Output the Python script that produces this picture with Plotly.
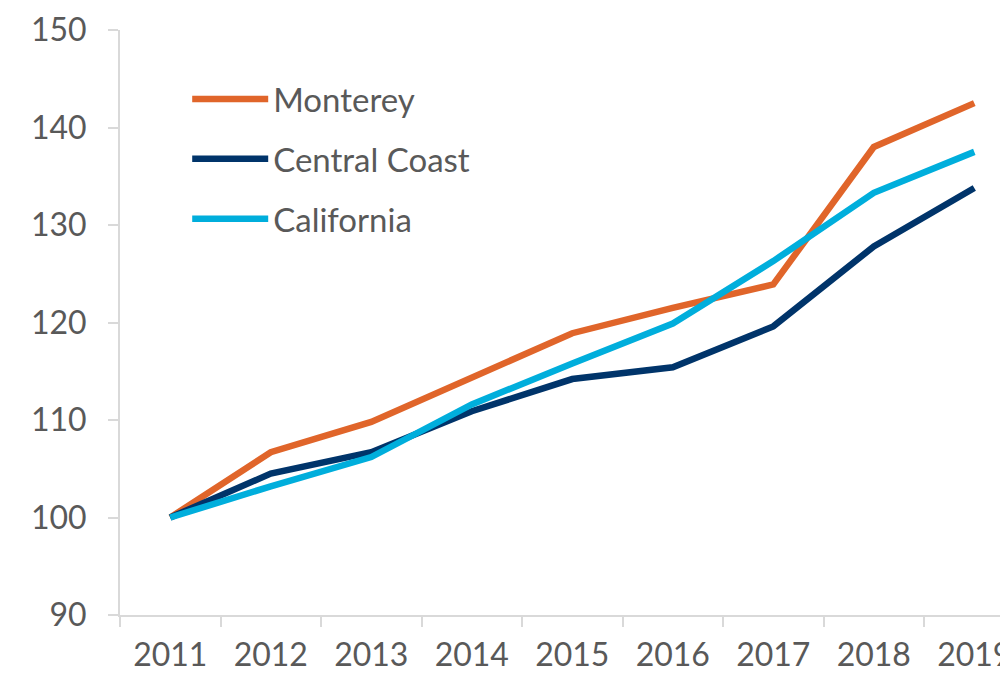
import plotly.graph_objects as go

years = ['2011', '2012', '2013', '2014', '2015', '2016', '2017', '2018', '2019']
monterey = [100, 106.7, 109.8, 114.3, 118.9, 121.5, 123.9, 138.0, 142.5]
central_coast = [100, 104.5, 106.7, 110.9, 114.2, 115.4, 119.6, 127.8, 133.8]
california = [100, 103.2, 106.2, 111.6, 115.8, 119.9, 126.3, 133.3, 137.5]

fig = go.Figure()
fig.add_trace(go.Scatter(x=years, y=monterey, name='Monterey', mode='lines',
                         line=dict(color='#E0652A', width=6.5), legendgroup='a'))
fig.add_trace(go.Scatter(x=years, y=central_coast, name='Central Coast', mode='lines',
                         line=dict(color='#00346A', width=6.5), legendgroup='b'))
fig.add_trace(go.Scatter(x=years, y=california, name='California', mode='lines',
                         line=dict(color='#00AEDC', width=6.5), legendgroup='c'))

# page has an 8px body margin, so margins are shifted to compensate
fig.update_layout(
    width=1008, height=674,
    margin=dict(l=112, r=0, t=22, b=67),
    plot_bgcolor='white', paper_bgcolor='white',
    font=dict(family='Lato', size=32, color='#595959'),
    showlegend=True,
    legend=dict(x=0.075, y=0.93, xanchor='left', yanchor='top',
                bgcolor='rgba(0,0,0,0)', itemwidth=76, tracegroupgap=14,
                font=dict(size=33, color='#595959')),
)
fig.update_xaxes(type='category', range=[-0.5, 8.415], tickson='boundaries',
                 showline=True, linecolor='#D9D9D9', linewidth=2,
                 ticks='outside', ticklen=10, tickcolor='#D9D9D9', tickwidth=2,
                 showgrid=False, zeroline=False, ticklabelstandoff=11)
fig.update_yaxes(range=[90, 150], dtick=10,
                 showline=True, linecolor='#D9D9D9', linewidth=2,
                 ticks='outside', ticklen=10, tickcolor='#D9D9D9', tickwidth=2,
                 showgrid=False, zeroline=False, ticklabelstandoff=15)

fig.write_html("out.html")
